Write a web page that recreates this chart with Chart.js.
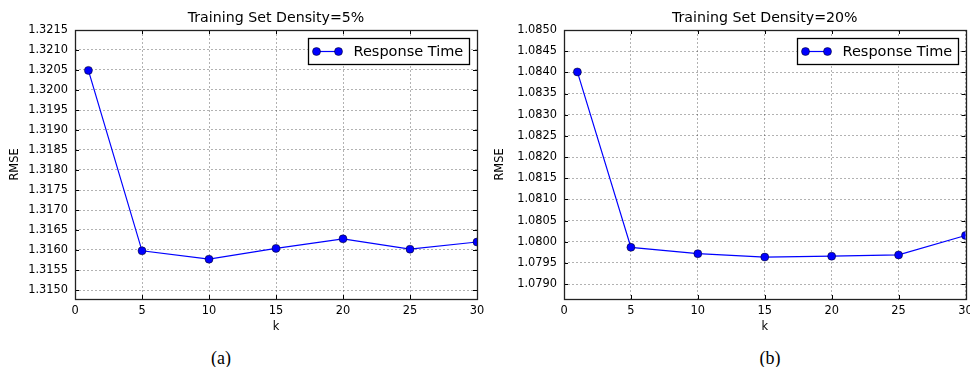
<!DOCTYPE html>
<html>
<head>
<meta charset="utf-8">
<script src="https://cdn.jsdelivr.net/npm/chart.js@4.4.1/dist/chart.umd.min.js"></script>
<style>
  html, body { margin: 0; padding: 0; background: #fff; }
  #wrap { position: relative; width: 970px; height: 367px; overflow: hidden; }
  #chart-a { position: absolute; left: 0; top: 0; }
  #chart-b { position: absolute; left: 485px; top: 0; }
  .cap { position: absolute; top: 348px; line-height: 20px; font: 18px "Liberation Serif", "DejaVu Serif", serif; color: #000; transform: translateX(-50%); }
</style>
</head>
<body>
<div id="wrap">
  <canvas id="chart-a" width="490" height="340"></canvas>
  <canvas id="chart-b" width="485" height="340"></canvas>
  <div class="cap" style="left:221px">(a)</div>
  <div class="cap" style="left:770px">(b)</div>
</div>
<script>
// ── data ─────────────────────────────────────────
const kValues   = [1, 5, 10, 15, 20, 25, 30];
const rmse5     = [1.32049, 1.31598, 1.31577, 1.31604, 1.31628, 1.31602, 1.31620];
const rmse20    = [1.08401, 1.07987, 1.07972, 1.07964, 1.07966, 1.07969, 1.08015];
const xTicks    = [0, 5, 10, 15, 20, 25, 30];
const yTicks5   = [1.3150, 1.3155, 1.3160, 1.3165, 1.3170, 1.3175, 1.3180, 1.3185, 1.3190, 1.3195, 1.3200, 1.3205, 1.3210, 1.3215];
const yTicks20  = [1.0790, 1.0795, 1.0800, 1.0805, 1.0810, 1.0815, 1.0820, 1.0825, 1.0830, 1.0835, 1.0840, 1.0845, 1.0850];
const seriesName = 'Response Time';

const FONT = '"DejaVu Sans", Verdana, sans-serif';
const BLUE = '#0000ff';
const GRID = 'rgba(0,0,0,0.3)';

// title over the plot area, frame, inward ticks and legend box (matplotlib classic look)
const mplDecor = {
  id: 'mplDecor',
  afterDatasetsDraw(chart, args, opts) {
    const { ctx, chartArea: a, scales } = chart;
    ctx.save();

    ctx.fillStyle = '#000';
    ctx.font = '14.2px ' + FONT;
    ctx.textAlign = 'center';
    ctx.textBaseline = 'middle';
    ctx.fillText(opts.title, (a.left + a.right) / 2, 18);

    ctx.strokeStyle = '#000';
    ctx.lineWidth = 1;
    ctx.setLineDash([]);
    ctx.beginPath();
    scales.x.ticks.forEach(t => {
      const px = Math.round(scales.x.getPixelForValue(t.value)) + 0.5;
      ctx.moveTo(px, a.bottom); ctx.lineTo(px, a.bottom - 4);
      ctx.moveTo(px, a.top);    ctx.lineTo(px, a.top + 4);
    });
    scales.y.ticks.forEach(t => {
      const py = Math.round(scales.y.getPixelForValue(t.value)) + 0.5;
      ctx.moveTo(a.left, py);  ctx.lineTo(a.left + 4, py);
      ctx.moveTo(a.right, py); ctx.lineTo(a.right - 4, py);
    });
    ctx.stroke();
    ctx.strokeStyle = '#222';
    ctx.lineWidth = 1.3;
    ctx.strokeRect(Math.round(a.left) + 0.5, Math.round(a.top) + 0.5,
                   Math.round(a.right - a.left), Math.round(a.bottom - a.top));

    // legend
    const w = 161, h = 26;
    const lx = Math.round(a.right - 8 - w) + 0.5, ly = Math.round(a.top + 8) + 0.5;
    ctx.fillStyle = '#fff';
    ctx.fillRect(lx, ly, w, h);
    ctx.strokeStyle = '#000';
    ctx.lineWidth = 1.3;
    ctx.strokeRect(lx, ly, w, h);
    const cy = ly + h / 2;
    ctx.strokeStyle = BLUE;
    ctx.lineWidth = 1.2;
    ctx.beginPath(); ctx.moveTo(lx + 8, cy); ctx.lineTo(lx + 30, cy); ctx.stroke();
    [lx + 8, lx + 30].forEach(mx => {
      ctx.beginPath(); ctx.arc(mx, cy, 4, 0, Math.PI * 2);
      ctx.fillStyle = BLUE; ctx.fill();
      ctx.strokeStyle = '#000'; ctx.lineWidth = 0.5; ctx.stroke();
    });
    ctx.fillStyle = '#000';
    ctx.font = '14.5px ' + FONT;
    ctx.textBaseline = 'middle';
    ctx.textAlign = 'left';
    ctx.fillText(seriesName, lx + 45, cy + 0.5);
    ctx.restore();
  }
};

function makeChart(id, title, values, yTicks, yMin, yMax, axisW, padRight) {
  const ctx = document.getElementById(id).getContext('2d');
  return new Chart(ctx, {
    type: 'line',
    data: {
      datasets: [{
        label: seriesName,
        data: kValues.map((k, i) => ({ x: k, y: values[i] })),
        borderColor: BLUE,
        borderWidth: 1.2,
        pointRadius: 4,
        pointBackgroundColor: BLUE,
        pointBorderColor: '#000',
        pointBorderWidth: 0.5,
        tension: 0,
        clip: 0
      }]
    },
    options: {
      responsive: false,
      animation: false,
      layout: { padding: { left: 0, right: padRight, top: 30, bottom: 0 } },
      plugins: {
        legend: { display: false },
        tooltip: { enabled: false },
        title: { display: false },
        mplDecor: { title: title }
      },
      scales: {
        x: {
          type: 'linear',
          min: 0, max: 30,
          afterBuildTicks: s => { s.ticks = xTicks.map(v => ({ value: v })); },
          afterFit: s => { s.height = 41; s.paddingLeft = 0; s.paddingRight = 0; },
          grid: { color: GRID, lineWidth: 1, drawTicks: false },
          border: { display: false, dash: [2, 2] },
          ticks: { color: '#000', padding: 5, font: { family: FONT, size: 11.4 }, autoSkip: false, maxRotation: 0 },
          title: { display: true, text: 'k', color: '#000', font: { family: FONT, size: 11.4 }, padding: { top: 0, bottom: 6.5 } }
        },
        y: {
          min: yMin, max: yMax,
          afterBuildTicks: s => { s.ticks = yTicks.map(v => ({ value: v })); },
          afterFit: s => { s.width = axisW; s.paddingTop = 0; s.paddingBottom = 0; },
          grid: { color: GRID, lineWidth: 1, drawTicks: false },
          border: { display: false, dash: [2, 2] },
          ticks: { color: '#000', padding: 7, font: { family: FONT, size: 11.4 }, autoSkip: false, callback: v => v.toFixed(4) },
          title: { display: true, text: 'RMSE', color: '#000', font: { family: FONT, size: 11.4 }, padding: { top: 8, bottom: 0 } }
        }
      }
    },
    plugins: [mplDecor]
  });
}

makeChart('chart-a', 'Training Set Density=5%',  rmse5,  yTicks5,  1.314775, 1.3215, 75, 13);
makeChart('chart-b', 'Training Set Density=20%', rmse20, yTicks20, 1.07865,  1.0850, 79, 2);
</script>
</body>
</html>
